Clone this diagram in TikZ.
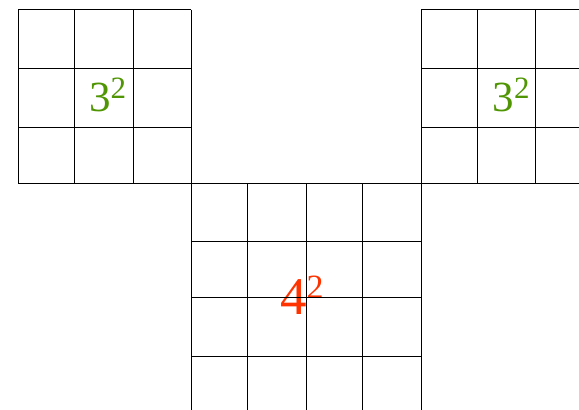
\documentclass[tikz,border=0pt]{standalone}
\usepackage{fontspec}
\setmainfont{Liberation Serif}
\definecolor{sqgreen}{RGB}{80,150,4}
\definecolor{sqred}{RGB}{255,51,0}
\tikzset{gridline/.style={black,line width=1pt},
  labelthree/.style={sqgreen,anchor=base west,inner sep=0pt,font=\fontsize{43}{43}\selectfont},
  labelfour/.style={sqred,anchor=base west,inner sep=0pt,font=\fontsize{53}{53}\selectfont}}
\begin{document}
\begin{tikzpicture}[x=1pt,y=-1pt]
\useasboundingbox (0,0) rectangle (579,410);
\clip (0,0) rectangle (579,410);
% labels
\node[labelthree] (leftlabel) at (89,111) {3\raisebox{13pt}{\fontsize{31}{31}\selectfont 2}};
\node[labelthree] (rightlabel) at (492.3,111) {3\raisebox{13pt}{\fontsize{31}{31}\selectfont 2}};
\node[labelfour] (midlabel) at (280,314) {4\raisebox{16pt}{\fontsize{34}{34}\selectfont 2}};
% left 3x3 grid
\foreach \x in {18,74,133,191} \draw[gridline] (\x,9.7) -- (\x,183);
\foreach \y in {9.7,68.7,127,183} \draw[gridline] (18,\y) -- (191,\y);
% right 3x3 grid
\foreach \x in {421,477,535.5,594} \draw[gridline] (\x,9.7) -- (\x,183);
\foreach \y in {9.7,68.7,127,183} \draw[gridline] (421,\y) -- (594,\y);
% bottom 4x4 grid
\foreach \x in {191,247.3,306,362,421} \draw[gridline] (\x,183) -- (\x,414);
\foreach \y in {183,241.7,297.7,356.3,414} \draw[gridline] (191,\y) -- (421,\y);
\end{tikzpicture}
\end{document}
